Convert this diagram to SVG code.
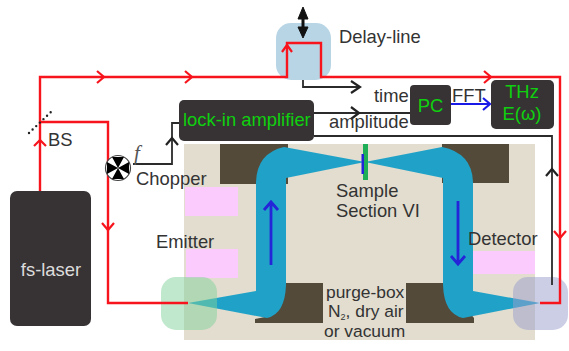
<svg xmlns="http://www.w3.org/2000/svg" width="569" height="351" viewBox="0 0 569 351">
<style>
text{font-family:"Liberation Sans",Arial,sans-serif;font-size:18.4px;fill:#333}
.g{fill:#0fd00f}
.box{fill:#373334}
.r{fill:none;stroke:#f8141c;stroke-width:2.4}
.k{fill:none;stroke:#2b2b2b;stroke-width:1.8}
.hr{fill:none;stroke:#f8141c;stroke-width:2.2}
.hk{fill:none;stroke:#222;stroke-width:2.2}
.dk{fill:#544a3a}
.pk{fill:#fccbfd}
.bm{fill:#20a2c8}
</style>
<rect width="569" height="351" fill="#fff"/>
<g id="purge-box">
<rect x="184" y="144" width="351" height="196" fill="#e2ddcf"/>
<rect class="dk" x="220" y="144" width="68" height="40"/>
<rect class="dk" x="442" y="144" width="67" height="39"/>
<path class="dk" d="M255 323V319L270 316L286 283H323V323Z"/>
<path class="dk" d="M406 283H444L474 318V323H406Z"/>
<rect class="pk" x="185" y="187" width="53" height="29"/>
<rect class="pk" x="186" y="249" width="52" height="29"/>
<rect class="pk" x="473" y="251" width="62" height="23"/>
<rect x="467" y="251" width="6" height="23" fill="#00a0e0"/>
<path class="bm" d="M188 303L256 291V182Q257 153 284 147L365 162L442 147Q472 153 473 182V291L540 303L463 318Q444 314 443 285V178L365 162L286 178V285Q285 314 267 318Z"/>
<rect x="363" y="144" width="5" height="36" fill="#1fae58"/>
<rect x="361.5" y="154" width="2.5" height="20" fill="#2424d8"/>
<path fill="none" stroke="#2424d8" stroke-width="2.800" d="M271 265V203M264 210L271 202L278 210"/>
<path fill="none" stroke="#2424d8" stroke-width="2.800" d="M458 201V263M451 256L458 264L465 256"/>
</g>
<g id="delay-line"><rect x="276" y="23" width="55" height="57" rx="15" fill="#b8d5e6"/></g>
<g id="emitter-spot"><rect x="161" y="277" width="56" height="53" rx="15" fill="#7fd19a" fill-opacity=".5"/></g>
<g id="detector-spot"><rect x="513" y="277" width="55" height="53" rx="15" fill="#9a9ecb" fill-opacity=".5"/></g>
<g id="connectors">
<path class="r" d="M40 191V77H287V43H321V77H560V303H540"/>
<path class="r" d="M40 122H108V303H188"/>
<path class="hr" d="M97 71L104 77L97 83M185 71L192 77L185 83M484 71L491 77L484 83M34 146L40 140L46 146M102 223L108 230L114 223M282 52L287 45L292 52M554 231L560 238L566 231"/>
<path class="k" d="M303 80V87H360M133 164H172V123H180M314 113H410M314 136H552V285"/>
<path class="hk" d="M351 81L360 87L351 93M166 145L172 138L178 145M351 107L359 113L351 119M546 176L552 169L558 176"/>
<path fill="none" stroke="#1a1ae8" stroke-width="2.2" d="M451 104H489M483 98L490 104L483 110"/>
<path fill="#111" stroke="#111" d="M303 7L298 19H302V27H298L303 38L308 27H304V19H308Z"/>
<path fill="none" stroke="#222" stroke-width="2.400" stroke-linecap="round" stroke-dasharray="0 5" d="M29 133L53 110"/>
</g>
<g id="chopper">
<circle cx="118" cy="168" r="12.500" fill="#fff" stroke="#444" stroke-width="1.200"/>
<path fill="#000" d="M118 168L112 157H124ZM118 168L129 162V174ZM118 168L124 179H112ZM118 168L107 174V162Z"/>
<text x="134" y="160" style="font-family:'Liberation Serif',serif;font-style:italic;font-size:21px;fill:#555">f</text>
</g>
<g id="fs-laser"><rect class="box" x="10" y="191" width="81" height="135" rx="7"/><text x="51" y="276" text-anchor="middle" style="fill:#ddd">fs-laser</text></g>
<g id="lock-in"><rect class="box" x="179" y="100" width="135" height="41" rx="5"/><text x="183" y="126" class="g">lock-in amplifier</text></g>
<g id="pc"><rect class="box" x="410" y="85" width="41" height="40" rx="4"/><text x="430.500" y="112" class="g" text-anchor="middle">PC</text></g>
<g id="thz"><rect class="box" x="491" y="80" width="63" height="49" rx="5"/><text x="522" y="98" class="g" text-anchor="middle">THz</text><text x="522" y="120" class="g" text-anchor="middle">E(ω)</text></g>
<g id="labels">
<text x="339" y="43">Delay-line</text>
<text x="374" y="102">time</text>
<text x="452" y="102">FFT</text>
<text x="329" y="128">amplitude</text>
<text x="48" y="146">BS</text>
<text x="136" y="185">Chopper</text>
<text x="156" y="248">Emitter</text>
<text x="336" y="197">Sample</text>
<text x="336" y="217">Section VI</text>
<text x="468" y="245">Detector</text>
<text x="326" y="298" style="font-size:17.400px">purge-box</text>
<text x="328" y="317" style="font-size:17.400px">N<tspan style="font-size:9px" dy="3">2</tspan><tspan dy="-3">, dry air</tspan></text>
<text x="324" y="337" style="font-size:17.400px">or vacuum</text>
</g>
</svg>
